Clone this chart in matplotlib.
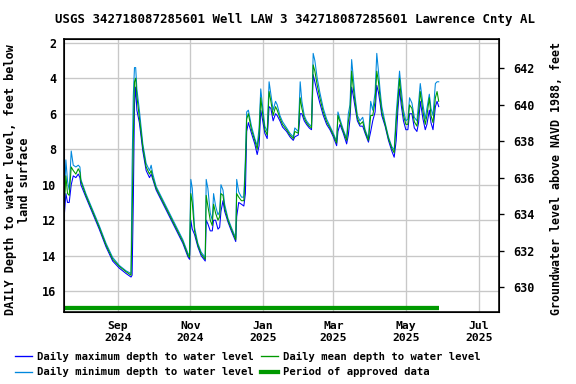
import numpy as np
import pandas as pd
import matplotlib
matplotlib.use("Agg")
import matplotlib.pyplot as plt
from matplotlib.lines import Line2D

# Data: day offsets from 2024-07-18, depths in feet below land surface
start = pd.Timestamp("2024-07-18")
days = [0, 1.4, 2.8, 4.2, 5.9, 7.6, 9.8, 11.8, 13.2, 14.0, 18.2, 23.8, 29.4, 35.1, 40.7,
        46.3, 51.9, 56.1, 57, 58, 59, 60, 61, 63.1, 66, 68.8, 71.6, 73, 74.4, 77.2,
        82.8, 88.4, 94, 99.6, 103.8, 105.2, 106.3, 107.5, 109.4, 112.2, 115, 118.4, 119.2, 120.6, 122.6,
        124.3, 125.4, 127.1, 129.1, 130.5, 131.6, 133.3, 134.7, 137.5, 140.3, 143.1, 144, 144.8, 146.5, 148.8,
        150.8, 152.1, 153.2, 154.6, 157.2, 160, 162, 163.6, 165, 166.4, 168.4, 170.4, 172, 173.5, 175.4,
        177.4, 178.8, 181.1, 183.3, 186.7, 189.5, 192.3, 193.6, 196.5, 198.1, 199.5, 201.5, 203.4, 205.7, 207.6,
        209, 210.4, 212.4, 214.6, 217.5, 220.3, 223.1, 225.9, 228.7, 229.8, 231.5, 234.3, 237.1, 238.5, 239.9,
        241.3, 242.7, 244.1, 246.1, 248.3, 250.6, 252.6, 255.4, 257.3, 259, 261, 262.4, 263.8, 265.2, 266.6,
        269.4, 272.2, 275, 277, 278.7, 280.1, 281.5, 282.9, 284.8, 286.8, 288.5, 289.9, 291.9, 293.9, 296.1,
        297.5, 298.9, 301.2, 303.1, 304.5, 306.5, 307.9, 309.6, 311.6, 313, 314.4]

mean_depth = [11.3, 9.5, 10.5, 10.6, 9.0, 9.2, 9.4, 9.1, 9.3, 9.8, 10.6, 11.5, 12.4, 13.4, 14.2,
              14.6, 14.9, 15.1, 12.0, 7.5, 4.2, 4.0, 5.0, 6.2, 7.9, 9.0, 9.4, 9.2, 9.6, 10.2,
              10.95, 11.7, 12.45, 13.2, 13.95, 14.1, 10.5, 11.0, 12.6, 13.4, 13.9, 14.2, 10.6, 11.2, 12.0,
              12.3, 11.1, 11.6, 12.0, 11.8, 10.5, 10.6, 11.3, 12.0, 12.5, 12.95, 13.1, 10.5, 10.7, 10.9,
              10.9, 9.0, 6.3, 6.0, 6.9, 7.5, 8.0, 7.2, 5.1, 5.9, 6.9, 7.2, 4.75, 5.3, 6.1,
              5.6, 5.8, 6.25, 6.6, 6.9, 7.2, 7.4, 7.0, 7.1, 5.1, 5.7, 6.25, 6.5, 6.7, 6.8,
              3.25, 3.6, 4.4, 5.1, 5.9, 6.45, 6.8, 7.2, 7.65, 6.1, 6.45, 7.0, 7.5, 6.45, 5.9,
              3.6, 4.55, 5.3, 6.25, 6.6, 6.45, 7.0, 7.5, 6.1, 6.1, 5.3, 3.6, 4.2, 5.1, 5.9,
              6.6, 7.4, 7.95, 8.2, 6.45, 5.3, 4.0, 5.1, 6.1, 6.6, 6.6, 5.5, 5.7, 6.45, 6.7,
              5.9, 4.75, 5.9, 6.6, 6.1, 5.1, 6.1, 6.5, 5.1, 4.75, 5.3]

max_depth = [11.8, 10.5, 11.0, 11.0, 10.0, 9.5, 9.6, 9.4, 9.6, 10.0, 10.7, 11.6, 12.5, 13.5, 14.3,
             14.7, 15.0, 15.2, 15.1, 11.0, 5.5, 4.5, 5.8, 6.5, 8.1, 9.2, 9.6, 9.4, 9.7, 10.3,
             11.05, 11.8, 12.55, 13.3, 14.05, 14.2, 12.0, 12.5, 12.8, 13.5, 14.0, 14.3, 12.0, 12.2, 12.6,
             12.6, 12.0, 12.0, 12.5, 12.4, 11.5, 10.9, 11.5, 12.1, 12.6, 13.05, 13.2, 11.8, 11.0, 11.1,
             11.2, 10.5, 7.0, 6.5, 7.1, 7.7, 8.3, 7.8, 5.8, 6.3, 7.1, 7.4, 5.6, 5.7, 6.4,
             6.0, 6.1, 6.4, 6.75, 7.0, 7.3, 7.5, 7.3, 7.2, 6.0, 6.0, 6.4, 6.6, 6.8, 6.9,
             3.8, 4.2, 4.8, 5.4, 6.1, 6.6, 6.9, 7.3, 7.8, 7.0, 6.6, 7.1, 7.7, 7.2, 6.3,
             4.5, 5.0, 5.6, 6.4, 6.7, 6.7, 7.1, 7.6, 7.0, 6.4, 5.9, 4.4, 4.8, 5.4, 6.1,
             6.7, 7.5, 8.1, 8.45, 7.5, 5.8, 4.6, 5.5, 6.4, 6.9, 6.9, 6.0, 6.0, 6.8, 7.0,
             6.5, 5.3, 6.3, 6.9, 6.6, 5.8, 6.5, 6.9, 5.6, 5.3, 5.6]

min_depth = [11.0, 8.6, 9.8, 10.3, 8.1, 8.9, 9.0, 8.9, 9.0, 9.7, 10.5, 11.4, 12.3, 13.3, 14.1,
             14.55, 14.85, 15.0, 9.0, 5.0, 3.4, 3.4, 4.6, 5.8, 7.7, 8.8, 9.2, 8.9, 9.4, 10.1,
             10.85, 11.6, 12.35, 13.1, 13.85, 14.0, 9.7, 10.2, 12.4, 13.3, 13.8, 14.1, 9.7, 10.2, 11.6,
             12.0, 10.5, 11.2, 11.7, 11.5, 10.0, 10.3, 11.1, 11.9, 12.4, 12.85, 13.0, 9.7, 10.4, 10.7,
             10.7, 8.5, 5.9, 5.8, 6.7, 7.4, 7.8, 6.8, 4.6, 5.5, 6.7, 7.0, 4.2, 4.9, 5.8,
             5.3, 5.5, 6.1, 6.45, 6.8, 7.1, 7.3, 6.8, 7.0, 4.2, 5.3, 6.1, 6.4, 6.6, 6.7,
             2.6, 3.0, 4.0, 4.8, 5.7, 6.3, 6.7, 7.1, 7.55, 5.9, 6.3, 6.9, 7.4, 6.0, 5.5,
             2.95, 4.0, 5.0, 6.1, 6.4, 6.2, 6.9, 7.4, 5.3, 5.8, 4.8, 2.6, 3.6, 4.7, 5.6,
             6.5, 7.3, 7.85, 8.05, 6.0, 4.8, 3.6, 4.6, 5.8, 6.4, 6.3, 5.1, 5.4, 6.2, 6.4,
             5.4, 4.3, 5.5, 6.3, 5.7, 4.9, 5.7, 6.1, 4.3, 4.2, 4.2]

approved_start = "2024-07-17"
approved_end = "2025-05-29"
approved_depth = 16.96

tick_dates = ["2024-09-01", "2024-11-01", "2025-01-01", "2025-03-01", "2025-05-01", "2025-07-01"]
tick_labels = ["Sep\n2024", "Nov\n2024", "Jan\n2025", "Mar\n2025", "May\n2025", "Jul\n2025"]

dates = start + pd.to_timedelta(days, unit="D")

plt.rcParams["font.family"] = ["DejaVu Sans Mono"]
plt.rcParams["font.weight"] = "bold"

fig = plt.figure(figsize=(6, 4), dpi=96)
ax = fig.add_axes([64 / 576, 1 - 312 / 384, 435 / 576, 273 / 384])

ax.plot(dates, max_depth, color="#0000ff", lw=0.8)
ax.plot(dates, min_depth, color="#0088dd", lw=0.8)
ax.plot(dates, mean_depth, color="#009900", lw=0.8)
ax.plot(pd.to_datetime([approved_start, approved_end]), [approved_depth, approved_depth],
        color="#009900", lw=3.2, solid_capstyle="butt")

ax.set_xlim(pd.Timestamp("2024-07-17 20:00"), pd.Timestamp("2025-07-18"))
ax.set_ylim(17.17, 1.79)
ax.set_yticks(range(2, 17, 2))
ax.set_xticks(pd.to_datetime(tick_dates))
ax.set_xticklabels(tick_labels)
ax.grid(True, color="#c8c8c8", lw=1)
ax.set_axisbelow(True)
ax.tick_params(axis="x", length=0, pad=7, labelsize=8.5)
ax.tick_params(axis="y", length=0, pad=6, labelsize=8.8)
for s in ax.spines.values():
    s.set_linewidth(1.2)

ax2 = ax.twinx()
ax2.set_ylim(628.65, 643.6)
ax2.set_yticks(range(630, 643, 2))
ax2.tick_params(axis="y", length=3.5, width=1, pad=7, labelsize=8.8)

fig.text(295 / 576, 1 - 19 / 384, "USGS 342718087285601 Well LAW 3 342718087285601 Lawrence Cnty AL",
         ha="center", va="center", fontsize=9.3)
fig.text(17.5 / 576, 0.531, "DAILY Depth to water level, feet below\nland surface",
         rotation=90, ha="center", va="center", multialignment="center", fontsize=8.9, linespacing=1.1)
fig.text(556 / 576, 0.534, "Groundwater level above NAVD 1988, feet",
         rotation=90, ha="center", va="center", fontsize=8.7)

handles = [Line2D([], [], color="#0000ff", lw=1),
           Line2D([], [], color="#0088dd", lw=1),
           Line2D([], [], color="#009900", lw=1),
           Line2D([], [], color="#009900", lw=3.2)]
labels = ["Daily maximum depth to water level", "Daily minimum depth to water level",
          "Daily mean depth to water level", "Period of approved data"]
fig.legend(handles, labels, ncol=2, loc="center", bbox_to_anchor=(248 / 576, 1 - 364.7 / 384),
           frameon=False, fontsize=7.9, handlelength=1.6, handletextpad=0.5,
           columnspacing=0.7, labelspacing=0.5, borderpad=0)

fig.savefig("out.png", dpi=96)
